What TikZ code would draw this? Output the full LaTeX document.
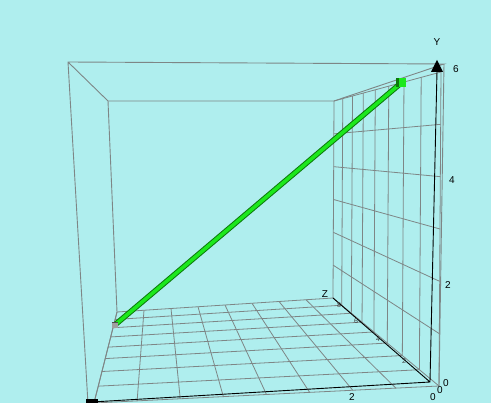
\documentclass[tikz,border=0pt]{standalone}
\usepackage{fontspec}
\setmainfont{Liberation Sans}
\usetikzlibrary{calc}
\definecolor{sky}{HTML}{AFEEEE}
\definecolor{mesh}{HTML}{7E8686}
\definecolor{lime}{HTML}{1CE81C}
\definecolor{leaf}{HTML}{0B7A0B}

\begin{document}
\begin{tikzpicture}[x=1pt,y=-1pt,
 edge/.style={draw=mesh,line width=0.9pt},
 grid/.style={draw=mesh,line width=0.8pt},
 axis/.style={draw=black,line width=0.9pt},
 tick/.style={font=\fontsize{10}{12}\selectfont,inner sep=0pt},
 ztick/.style={font=\fontsize{7}{8}\selectfont,inner sep=0pt,text=black!75}]
\useasboundingbox (0,0) rectangle (491,403);
\fill[sky] (0,0) rectangle (491,403);
\clip (0,0) rectangle (491,403);
% box corners
\coordinate (ftl) at (68,62); \coordinate (ftr) at (444,64);
\coordinate (fbl) at (88,404);
\coordinate (btl) at (108,101); \coordinate (btr) at (334,101);
\coordinate (bbl) at (117,312); \coordinate (bbr) at (333,298);
\coordinate (fl) at (94,403); \coordinate (fr) at (439,386);
\coordinate (wt) at (441,72);
\coordinate (o) at (430,382); \coordinate (xe) at (92,402); \coordinate (ye) at (437,71);
\draw[edge] (fbl)--(ftl)--(ftr)--(btr) (ftl)--(btl)--(btr) (btl)--(bbl)--(fl) (ftr)--(fr);
% floor and wall grid
\foreach \s in {0,.185,.346,.488,.614,.726,.827,.918,1}
  \draw[grid] ($(fl)!\s!(bbl)$)--($(fr)!\s!(bbr)$)--($(wt)!\s!(btr)$);
\foreach \k in {0,...,8}
  \draw[grid] ($(fl)!\k/8!(fr)$)--($(bbl)!\k/8!(bbr)$);
\foreach \k in {1,...,6}
  \draw[grid] ($(fr)!\k/6!(wt)$)--($(bbr)!\k/6!(btr)$);
% axes
\draw[axis] (xe)--(o)--(ye) (o)--(bbr);
\fill (437,60)--(443,72)--(431,72)--cycle;
\fill (86,399) rectangle (98,406);
% segment
\coordinate (p) at (116,324); \coordinate (q) at (400,84);
\draw[leaf,line width=5.5pt] (p)--(q);
\draw[lime,line width=3.5pt] (p)--(q);
\node[fill=gray!75,minimum size=6pt,inner sep=0pt] (pbox) at (115,325) {};
\fill[black!70] (pbox.north west) rectangle ++(6,1.6);
\node[fill=lime,minimum size=9pt,inner sep=0pt] (qbox) at (401,83) {};
\fill[leaf] (qbox.north west) rectangle ++(2.5,9);
% labels
\node[tick] (ylab) at (437,42) {Y};
\node[tick] (y6) at (456,69) {6};
\node[tick] (y4) at (452,180) {4};
\node[tick] (y2) at (448,285) {2};
\node[tick] (zlab) at (325,294) {Z};
\node[ztick] (z8) at (339,305) {8};
\node[ztick] (z6) at (356,321) {6};
\node[ztick] (z4) at (378,339) {4};
\node[ztick] (z2) at (404,361) {2};
\node[tick] (o1) at (446,383) {0};
\node[tick] (o2) at (440,390) {0};
\node[tick] (o3) at (433,397) {0};
\node[tick] (x2) at (352,397) {2};
\end{tikzpicture}
\end{document}
